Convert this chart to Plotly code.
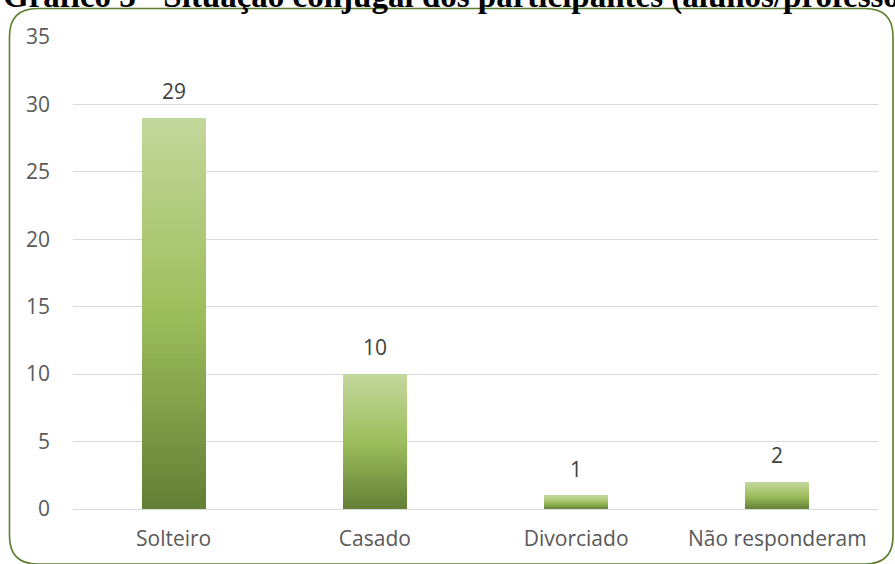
import plotly.graph_objects as go

categories = ["Solteiro", "Casado", "Divorciado", "Não responderam"]
values = [29, 10, 1, 2]
y_ticks = [0, 5, 10, 15, 20, 25, 30, 35]
title_text = "Gráfico 3 - Situação conjugal dos participantes (alunos/professores)"

W, H = 895, 564
ML, MR, MT, MB = 73, 17, 37, 55
PW, PH = W - ML - MR, H - MT - MB

def px2x(px):
    return (px - ML) / PW

def py2y(py):
    return (H - MB - py) / PH

# gradient stops (bottom -> top)
stops = [(0.0, (99, 127, 53)), (0.5, (157, 190, 92)), (1.0, (195, 215, 156))]

def grad(t):
    for (t0, c0), (t1, c1) in zip(stops[:-1], stops[1:]):
        if t <= t1:
            f = (t - t0) / (t1 - t0)
            return "rgb(%d,%d,%d)" % tuple(round(a + (b - a) * f) for a, b in zip(c0, c1))
    return "rgb(%d,%d,%d)" % stops[-1][1]

N = 60
fig = go.Figure()
for i in range(N):
    t = (i + 0.5) / N
    fig.add_trace(go.Bar(
        x=categories,
        y=[v / N for v in values],
        marker=dict(color=grad(t), line=dict(width=0)),
        width=0.318,
        hoverinfo="skip",
        showlegend=False,
    ))

for c, v in zip(categories, values):
    fig.add_annotation(
        x=c, y=v, text=str(v), showarrow=False, yanchor="bottom", yshift=11,
        font=dict(family="Open Sans", size=21, color="#404040"),
    )

# rounded border
x0, x1 = px2x(9.5), px2x(893)
y0, y1 = py2y(564), py2y(8.5)
rx, ry = 28 / PW, 28 / PH
path = (f"M {x0},{y1 - ry} Q {x0},{y1} {x0 + rx},{y1} "
        f"L {x1 - rx},{y1} Q {x1},{y1} {x1},{y1 - ry} "
        f"L {x1},{y0 + ry} Q {x1},{y0} {x1 - rx},{y0} "
        f"L {x0 + rx},{y0} Q {x0},{y0} {x0},{y0 + ry} Z")
fig.add_shape(type="path", path=path, xref="paper", yref="paper",
              line=dict(color="#5e7d2e", width=1.6), layer="below")

fig.add_annotation(
    text="<b>" + title_text + "</b>", xref="paper", yref="paper",
    x=px2x(1), y=py2y(17), xanchor="left", yanchor="bottom",
    showarrow=False, font=dict(family="Liberation Serif", size=33, color="#000000"),
)

fig.update_layout(
    width=W, height=H,
    margin=dict(l=ML, r=MR, t=MT, b=MB),
    barmode="stack", bargap=0,
    plot_bgcolor="white", paper_bgcolor="white",
    font=dict(family="Open Sans", size=21, color="#595959"),
)
fig.update_xaxes(showgrid=False, showline=False, ticks="", ticklabelstandoff=15,
                 tickfont=dict(size=21, color="#595959"))
fig.update_yaxes(range=[0, 35], tickvals=y_ticks, showgrid=True, gridcolor="#d9d9d9",
                 gridwidth=1, zeroline=True, zerolinecolor="#d9d9d9", zerolinewidth=1,
                 ticks="", ticklabelstandoff=22, tickfont=dict(size=21, color="#595959"))

fig.write_html("out.html")
